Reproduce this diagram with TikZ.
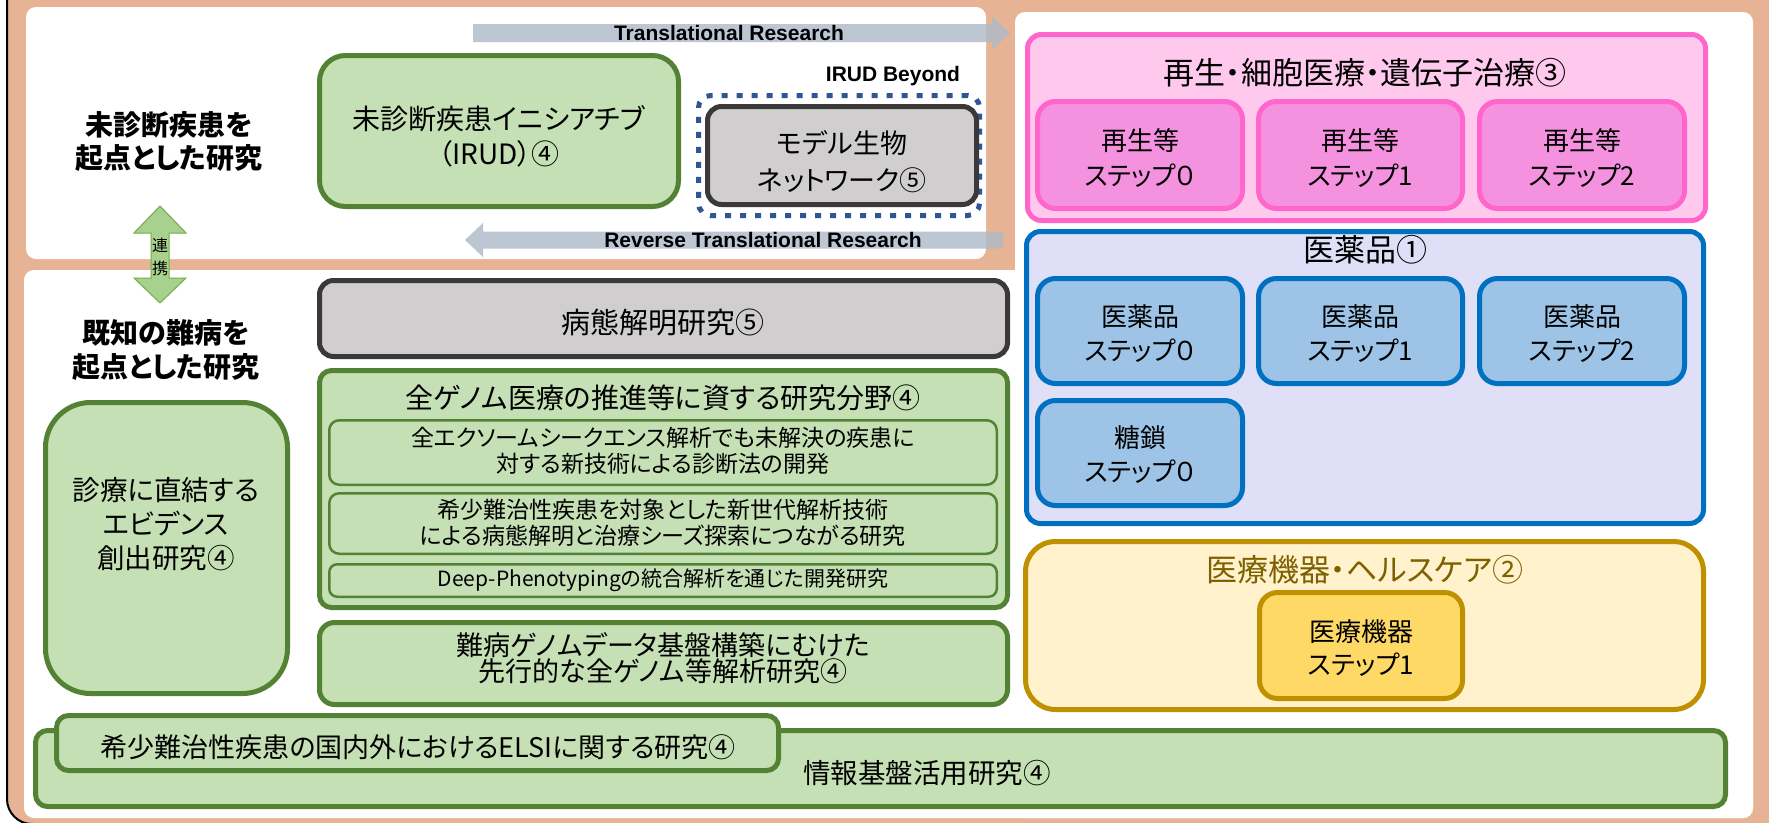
\documentclass[tikz,border=0pt]{standalone}
\usepackage{fontspec}
\newfontfamily\jp[RawFeature=+palt]{Noto Sans CJK JP}
\newfontfamily\en{Liberation Sans}
\definecolor{peach}{HTML}{E6B494}
\definecolor{gfill}{HTML}{C5E0B4}
\definecolor{gline}{HTML}{548235}
\definecolor{greyfill}{HTML}{D0CECE}
\definecolor{greyline}{HTML}{3B3838}
\definecolor{dotblue}{HTML}{2F5597}
\definecolor{pinkfill}{HTML}{FFC9EE}
\definecolor{pinksub}{HTML}{F592E0}
\definecolor{pinkline}{HTML}{FF66CC}
\definecolor{bluefill}{HTML}{DFDFF7}
\definecolor{bluesub}{HTML}{9DC3E6}
\definecolor{blueline}{HTML}{0070C0}
\definecolor{yelfill}{HTML}{FFF2CC}
\definecolor{yelsub}{HTML}{FFD966}
\definecolor{yelline}{HTML}{BF9000}
\definecolor{yeltext}{HTML}{7F6000}
\definecolor{arrowgrey}{HTML}{ADB9CA}
\definecolor{arrowgreen}{HTML}{A9D18E}
\definecolor{arrowgreenline}{HTML}{70AD47}
\newcommand\BX[7]{\node[#1,line width=#2pt,minimum width={#5-#3-#2},minimum height={#6-#4-#2},inner sep=0pt,outer sep=0pt] (#7) at ({(#3+#5)/2},{(#4+#6)/2}) {};}
\tikzset{
  gbox/.style={fill=gfill,draw=gline,rounded corners=14pt},
  greybox/.style={fill=greyfill,draw=greyline,rounded corners=14pt},
  pinko/.style={fill=pinkfill,draw=pinkline,rounded corners=14pt},
  pinks/.style={fill=pinksub,draw=pinkline,rounded corners=18pt},
  blueo/.style={fill=bluefill,draw=blueline,rounded corners=14pt},
  blues/.style={fill=bluesub,draw=blueline,rounded corners=18pt},
  yelo/.style={fill=yelfill,draw=yelline,rounded corners=30pt},
  yels/.style={fill=yelsub,draw=yelline,rounded corners=18pt},
  txt/.style={align=center,inner sep=0pt,font=\jp\fontsize{28}{35}\selectfont},
  ttl/.style={align=center,inner sep=0pt,font=\jp\fontsize{31}{36}\selectfont},
  sub/.style={align=center,inner sep=0pt,font=\jp\fontsize{26}{34}\selectfont},
  small/.style={align=center,inner sep=0pt,font=\jp\fontsize{23}{26}\selectfont},
  lbl/.style={align=center,inner sep=0pt,font=\jp\bfseries\fontsize{28}{33}\selectfont},
  entxt/.style={inner sep=0pt,font=\en\bfseries\fontsize{21}{24}\selectfont},
  barrow/.style={fill=arrowgrey,fill opacity=0.8,draw=none},
}
\begin{document}
\begin{tikzpicture}[x=1pt,y=-1pt]
\useasboundingbox (0,0) rectangle (1769,822);
\clip (0,0) rectangle (1769,822);
\fill[white] (0,0) rectangle (1769,822);
% outer frame
\draw[fill=peach,line width=2pt,rounded corners=25pt] (7,-40) rectangle (1800,824);
% white panels
\fill[white,rounded corners=10pt] (26,7) rectangle (986,259);
\fill[white,rounded corners=10pt] (1015,12) rectangle (1753,818);
\fill[white,rounded corners=10pt] (24,270) rectangle (1753,818);

% translational arrows
\fill[barrow] (473,24) -- (992,24) -- (992,16) -- (1010,33) -- (992,50) -- (992,42) -- (473,42) -- cycle;
\node[entxt] (tr) at (729,33) {Translational Research};
\fill[barrow] (1003,231.5) -- (483,231.5) -- (483,223) -- (465,240) -- (483,257) -- (483,248.5) -- (1003,248.5) -- cycle;
\node[entxt] (rtr) at (763,240) {Reverse Translational Research};

% top left
\node[lbl] (undiag) at (169,141.5) {未診断疾患を\\起点とした研究};
\BX{gbox,rounded corners=26pt}{5}{317}{53}{681}{209}{irud}
\node[txt] (irudT) at (499,136.5) {未診断疾患イニシアチブ\\（IRUD）④};
\node[entxt] (beyondT) at (893,76) {IRUD Beyond};
\node[draw=dotblue,line width=5pt,dash pattern=on 6pt off 9pt,rounded corners=12pt,minimum width=281,minimum height=120,inner sep=0pt] (beyond) at (839,155.5) {};
\BX{greybox}{5}{705}{104}{979}{207}{model}
\node[txt,font=\jp\fontsize{27}{37}\selectfont] (modelT) at (842,161.5) {モデル生物\\ネットワーク⑤};

% renkei arrow
\draw[fill=arrowgreen,draw=arrowgreenline,line width=1pt] (160,206) -- (186,233) -- (169,233) -- (169,278) -- (186,278) -- (160,303) -- (134,278) -- (151,278) -- (151,233) -- (134,233) -- cycle;
\node[align=center,inner sep=0pt,font=\jp\fontsize{16}{23}\selectfont] (renkei) at (160,256.5) {連\\携};

% lower left
\node[lbl,font=\jp\bfseries\fontsize{28}{34}\selectfont] (known) at (166,350) {既知の難病を\\起点とした研究};
\BX{gbox,rounded corners=45pt}{5}{43}{400}{290}{696}{evid}
\node[txt,font=\jp\fontsize{27.5}{34}\selectfont] (evidT) at (166,524) {診療に直結する\\エビデンス\\創出研究④};

\BX{greybox}{5}{317}{278}{1010}{359}{patho}
\node[txt,font=\jp\fontsize{29}{35}\selectfont] (pathoT) at (663,322) {病態解明研究⑤};

\BX{gbox,rounded corners=12pt}{5}{317}{368}{1010}{610}{genome}
\node[txt] (genomeT) at (663,398) {全ゲノム医療の推進等に資する研究分野④};
\BX{gbox,rounded corners=10pt}{2.5}{328}{419}{998}{486}{g1}
\node[small] (g1T) at (663,451) {全エクソームシークエンス解析でも未解決の疾患に\\対する新技術による診断法の開発};
\BX{gbox,rounded corners=10pt}{2.5}{328}{492}{998}{555}{g2}
\node[small] (g2T) at (663,523) {希少難治性疾患を対象とした新世代解析技術\\による病態解明と治療シーズ探索につながる研究};
\BX{gbox,rounded corners=8pt}{2.5}{328}{563}{998}{598}{g3}
\node[small,font=\jp\fontsize{21}{26}\selectfont] (g3T) at (663,580) {Deep-Phenotypingの統合解析を通じた開発研究};

\BX{gbox,rounded corners=15pt}{5}{317}{620}{1010}{707}{nanbyo}
\node[txt,font=\jp\fontsize{27}{26}\selectfont] (nanbyoT) at (663,658) {難病ゲノムデータ基盤構築にむけた\\先行的な全ゲノム等解析研究④};

\BX{gbox,rounded corners=12pt}{5}{33}{728}{1728}{809}{info}
\node[txt,font=\jp\fontsize{27.5}{35}\selectfont] (infoT) at (927,773) {情報基盤活用研究④};
\BX{gbox,rounded corners=12pt}{5}{54}{713}{781}{773}{elsi}
\node[txt,font=\jp\fontsize{27}{35}\selectfont] (elsiT) at (418,747) {希少難治性疾患の国内外におけるELSIに関する研究④};

% right: regenerative
\BX{pinko}{5}{1025}{32}{1708}{223}{regen}
\node[ttl] (regenT) at (1365,73) {再生・細胞医療・遺伝子治療③};
\BX{pinks}{5}{1035}{99}{1245}{211}{r0}
\BX{pinks}{5}{1256}{99}{1465}{211}{r1}
\BX{pinks}{5}{1477}{99}{1687}{211}{r2}
\node[sub,font=\jp\fontsize{26}{35}\selectfont] (r0T) at (1140,157.5) {再生等\\ステップ０};
\node[sub,font=\jp\fontsize{26}{35}\selectfont] (r1T) at (1360.5,157.5) {再生等\\ステップ1};
\node[sub,font=\jp\fontsize{26}{35}\selectfont] (r2T) at (1582,157.5) {再生等\\ステップ2};

% right: drugs
\BX{blueo}{5}{1024}{229}{1706}{526}{drug}
\node[ttl] (drugT) at (1365,250) {医薬品①};
\BX{blues}{5}{1035}{276}{1245}{386}{d0}
\BX{blues}{5}{1256}{276}{1465}{386}{d1}
\BX{blues}{5}{1477}{276}{1687}{386}{d2}
\BX{blues}{5}{1035}{398}{1245}{508}{s0}
\node[sub] (d0T) at (1140,333.5) {医薬品\\ステップ０};
\node[sub] (d1T) at (1360.5,333.5) {医薬品\\ステップ1};
\node[sub] (d2T) at (1582,333.5) {医薬品\\ステップ2};
\node[sub] (s0T) at (1140,455) {糖鎖\\ステップ０};

% right: devices
\BX{yelo}{5}{1023}{539}{1706}{712}{dev}
\node[ttl,text=yeltext] (devT) at (1365,570) {医療機器・ヘルスケア②};
\BX{yels}{5}{1257}{590}{1465}{701}{dv1}
\node[sub,font=\jp\fontsize{26}{33}\selectfont] (dv1T) at (1361,648.5) {医療機器\\ステップ1};
\end{tikzpicture}
\end{document}
